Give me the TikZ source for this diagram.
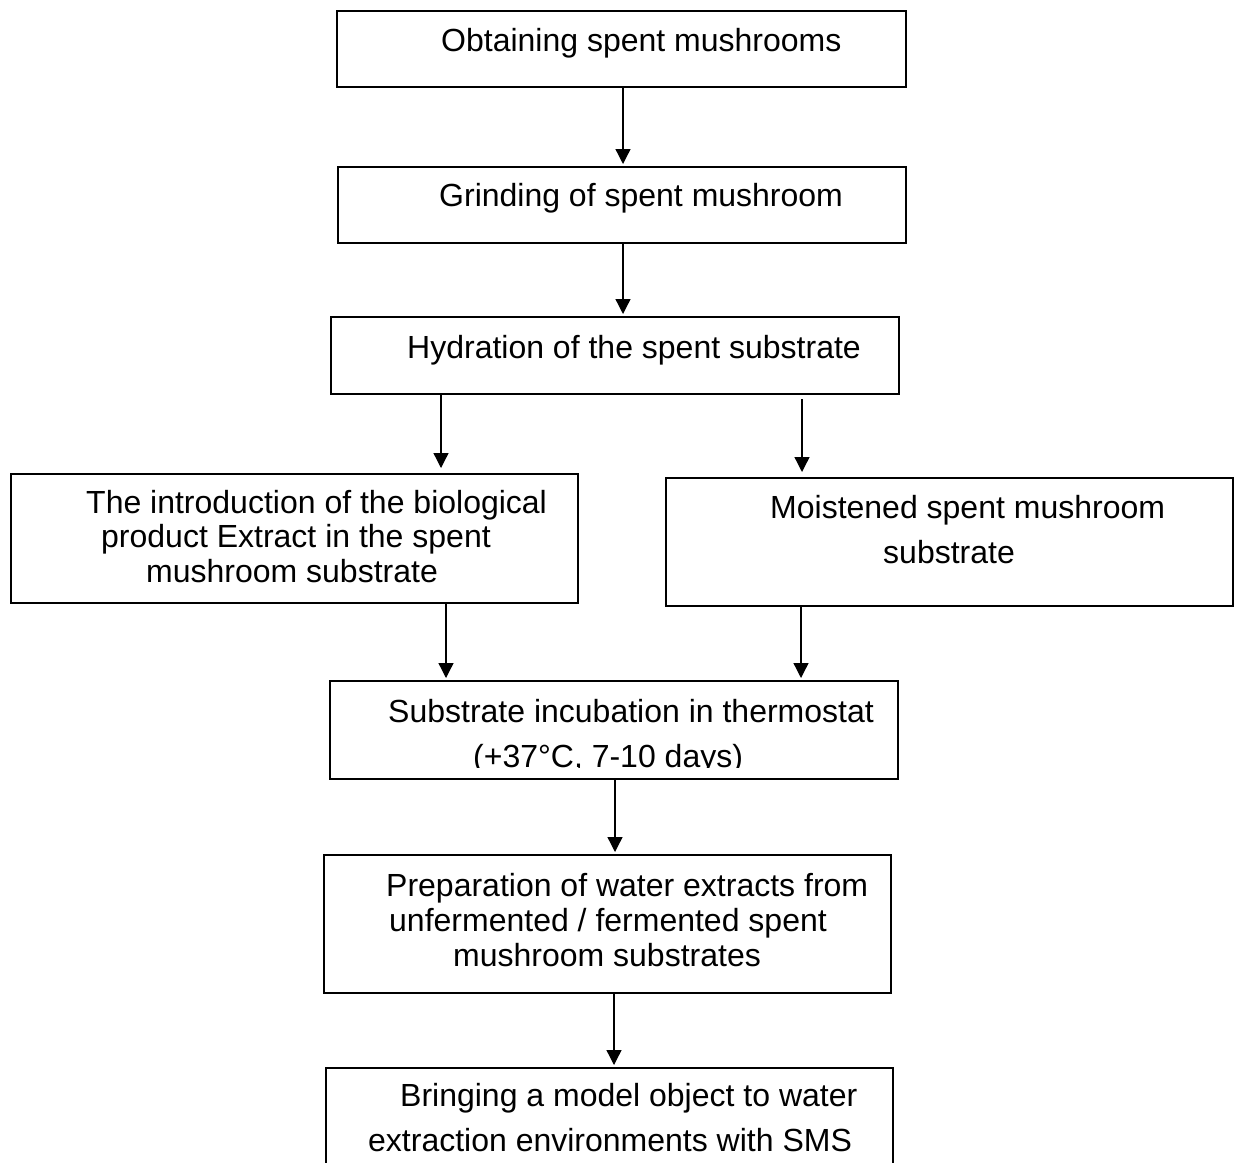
\documentclass[tikz,border=0pt]{standalone}
\usepackage{fontspec}
\setmainfont{Liberation Sans}
\usetikzlibrary{arrows.meta}
\begin{document}
\begin{tikzpicture}[x=1pt,y=-1pt,
  box/.style={draw, line width=2pt, inner sep=0pt, anchor=north west},
  txt/.style={anchor=base west, inner sep=0pt, font=\fontsize{32}{36}\selectfont},
  arr/.style={line width=1.3pt, shorten >=2pt, -{Triangle[width=15pt,length=15pt]}}]
\useasboundingbox (0,0) rectangle (1239,1162);
\clip (0,0) rectangle (1239,1162);
\fill[white] (0,0) rectangle (1239,1162);
% boxes
\node[box, minimum width=569pt, minimum height=76pt]  (b1) at (336,10) {};
\node[box, minimum width=568pt, minimum height=76pt]  (b2) at (337,166) {};
\node[box, minimum width=568pt, minimum height=77pt]  (b3) at (330,316) {};
\node[box, minimum width=567pt, minimum height=129pt] (bL) at (10,473) {};
\node[box, minimum width=567pt, minimum height=128pt] (bR) at (665,477) {};
\node[box, minimum width=568pt, minimum height=98pt]  (b6) at (329,680) {};
\node[box, minimum width=567pt, minimum height=138pt] (b7) at (323,854) {};
\node[box, minimum width=567pt, minimum height=130pt] (b8) at (325,1067) {};
% texts
\node[txt] (t1) at (441,51) {Obtaining spent mushrooms};
\node[txt] (t2) at (439,206) {Grinding of spent mushroom};
\node[txt] (t3) at (407,358) {Hydration of the spent substrate};
\node[txt] (tL1) at (86,513) {The introduction of the biological};
\node[txt] (tL2) at (101,547) {product Extract in the spent};
\node[txt] (tL3) at (146,582) {mushroom substrate};
\node[txt] (tR1) at (770,518) {Moistened spent mushroom};
\node[txt] (tR2) at (883,563) {substrate};
\node[txt] (t61) at (388,722) {Substrate incubation in thermostat};
\begin{scope}
\clip (329,700) rectangle (897,767.5);
\node[txt] (t62) at (473,767) {(+37°C, 7-10 days)};
\end{scope}
\node[txt] (t71) at (386,896) {Preparation of water extracts from};
\node[txt] (t72) at (389,931) {unfermented / fermented spent};
\node[txt] (t73) at (453,966) {mushroom substrates};
\node[txt] (t81) at (400,1106) {Bringing a model object to water};
\node[txt] (t82) at (368,1151) {extraction environments with SMS};
% arrow columns
\coordinate (c1) at (623,0);
\coordinate (c3) at (441,0);
\coordinate (c4) at (802,0);
\coordinate (c5) at (446,0);
\coordinate (c6) at (801,0);
\coordinate (c7) at (615,0);
\coordinate (c8) at (614,0);
% arrows
\draw[arr] (b1.south -| c1) -- (b2.north -| c1);
\draw[arr] (b2.south -| c1) -- (b3.north -| c1);
\draw[arr] (b3.south -| c3) -- ([yshift=3pt]bL.north -| c3);
\draw[arr] ([yshift=-4pt]b3.south -| c4) -- ([yshift=3pt]bR.north -| c4);
\draw[arr] (bL.south -| c5) -- (b6.north -| c5);
\draw[arr] (bR.south -| c6) -- (b6.north -| c6);
\draw[arr] (b6.south -| c7) -- (b7.north -| c7);
\draw[arr] (b7.south -| c8) -- (b8.north -| c8);
\end{tikzpicture}
\end{document}
